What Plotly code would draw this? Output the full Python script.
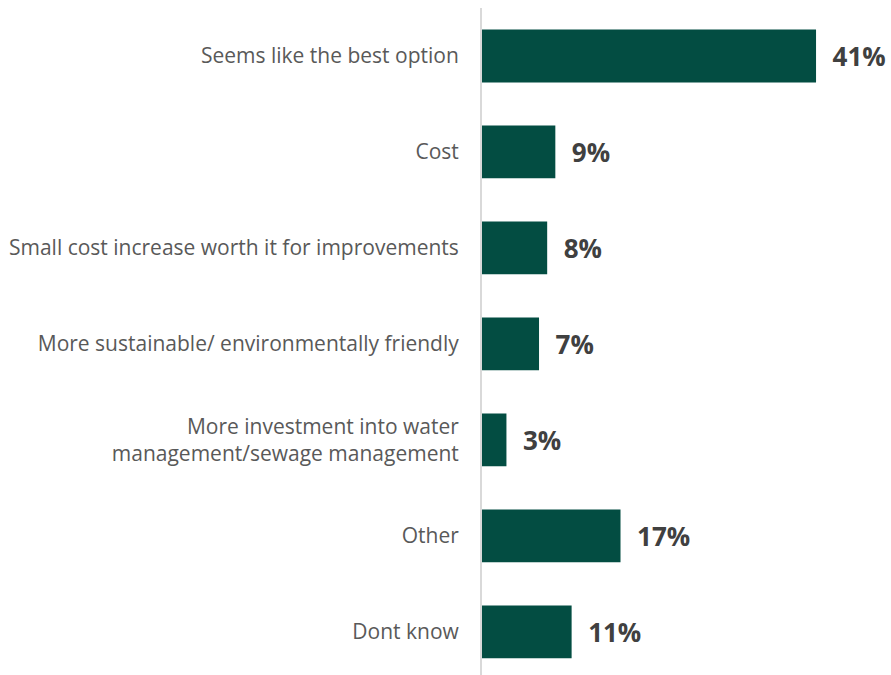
import plotly.graph_objects as go

categories = [
    "Seems like the best option",
    "Cost",
    "Small cost increase worth it for improvements",
    "More sustainable/ environmentally friendly",
    "More investment into water<br>management/sewage management",
    "Other",
    "Dont know",
]
values = [41, 9, 8, 7, 3, 17, 11]
value_labels = ["41%", "9%", "8%", "7%", "3%", "17%", "11%"]

fig = go.Figure(
    go.Bar(
        x=values,
        y=categories,
        orientation="h",
        marker=dict(color="#034d42", line=dict(width=0)),
        width=0.55,
        text=value_labels,
        textposition="outside",
        texttemplate="  %{text}",
        textfont=dict(family="Open Sans", size=26, color="#404040", weight="bold"),
        cliponaxis=False,
    )
)

fig.update_layout(
    width=891,
    height=675,
    margin=dict(l=482, r=0, t=8, b=0),
    plot_bgcolor="white",
    paper_bgcolor="white",
    showlegend=False,
    font=dict(family="Open Sans", size=21, color="#595959"),
)
fig.update_xaxes(
    range=[0, 50.2],
    showgrid=False,
    zeroline=False,
    showticklabels=False,
    showline=False,
)
fig.update_yaxes(
    range=[6.45, -0.5],
    showgrid=False,
    zeroline=False,
    showline=True,
    linecolor="#d9d9d9",
    linewidth=2,
    ticks="",
    ticklabelstandoff=17,
    tickfont=dict(family="Open Sans", size=21, color="#595959"),
)

fig.write_html("out.html")
